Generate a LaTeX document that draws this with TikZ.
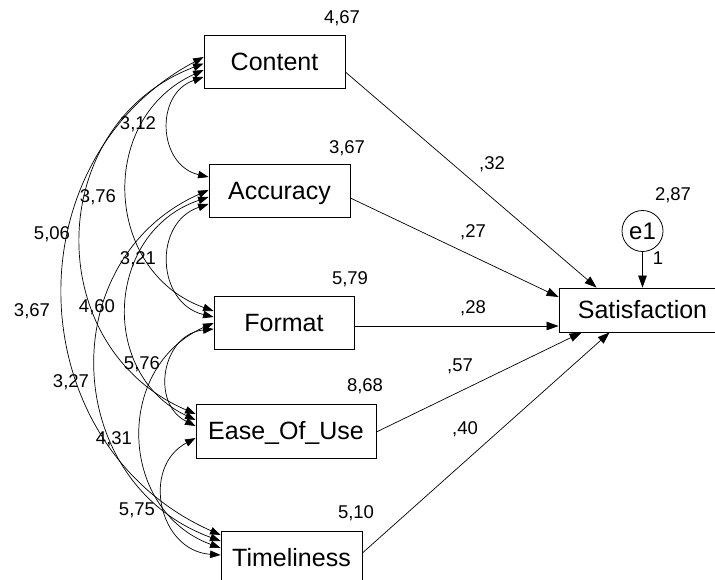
\documentclass[tikz,border=0pt]{standalone}
\usepackage{fontspec}
\setmainfont{Liberation Sans}
\usetikzlibrary{arrows.meta,calc}
\begin{document}
\begin{tikzpicture}[x=1pt,y=-1pt,
  var/.style={draw, line width=0.8pt, rectangle, inner sep=0pt, minimum height=53pt,
    font=\fontsize{25}{28}\selectfont, text height=17.9pt, text depth=0pt},
  num/.style={inner sep=0pt, font=\fontsize{18.5}{20}\selectfont, text height=13.2pt, text depth=0pt},
  regpath/.style={line width=0.7pt, -{Triangle[length=12pt,width=8.5pt]}},
  cov/.style={line width=0.7pt, {Triangle[length=10.5pt,width=7.5pt]}-{Triangle[length=10.5pt,width=7.5pt]},
    bend right=68, looseness=1.24},
  covnear/.style={cov, bend right=74, looseness=1.33},
  covfar/.style={cov, bend right=64, looseness=1.18},
]
\useasboundingbox (0,0) rectangle (715,579);
\clip (0,0) rectangle (715,579);

% variables
\node[var, minimum width=141pt] (C) at (274.5,61.5) {Content};
\node[var, minimum width=141pt] (A) at (279.5,190.5) {Accuracy};
\node[var, minimum width=140pt] (F) at (284,322.5) {Format};
\node[var, minimum width=180pt, minimum height=54pt] (E) at (286,431) {Ease\_Of\_Use};
\node[var, minimum width=141pt] (T) at (291.5,557.5) {Timeliness};
\node[var, minimum width=167pt, minimum height=44pt] (S) at (642.5,310) {Satisfaction};
\node[draw, circle, line width=0.8pt, minimum size=41pt, inner sep=0pt,
  font=\fontsize{24}{26}\selectfont] (e1) at (642.5,231) {e1};

% regression paths
\draw[regpath] ($(C.east)+(0,10.5)$) -- ($(S.north west)+(38,0)$);
\draw[regpath] ($(A.east)+(0,7.5)$) -- ($(S.west)+(0,-13)$);
\draw[regpath] ($(F.east)+(0,3.5)$) -- ($(S.west)+(0,16)$);
\draw[regpath] ($(E.east)+(0,1)$) -- ($(S.south west)+(23,0)$);
\draw[regpath] ($(T.east)+(0,-4.5)$) -- ($(S.south west)+(51,0)$);
\draw[regpath] (e1) -- (S);

% covariance end points
\coordinate (cT) at ($(C.west)+(0,-4.5)$);
\coordinate (cE) at ($(C.west)+(0,2)$);
\coordinate (cF) at ($(C.west)+(0,8.5)$);
\coordinate (cA) at ($(C.west)+(0,15.5)$);
\coordinate (aC) at ($(A.west)+(0,-13.5)$);
\coordinate (aT) at ($(A.west)+(0,-0.5)$);
\coordinate (aE) at ($(A.west)+(0,6.5)$);
\coordinate (aF) at ($(A.west)+(0,13.5)$);
\coordinate (fC) at ($(F.west)+(0,-11.5)$);
\coordinate (fA) at ($(F.west)+(0,-5.5)$);
\coordinate (fT) at ($(F.west)+(0,0.5)$);
\coordinate (fE) at ($(F.west)+(0,6.5)$);
\coordinate (eC) at ($(E.west)+(0,-17)$);
\coordinate (eA) at ($(E.west)+(0,-11)$);
\coordinate (eF) at ($(E.west)+(0,-5)$);
\coordinate (eT) at ($(E.west)+(0,7)$);
\coordinate (tC) at ($(T.west)+(0,-22.5)$);
\coordinate (tA) at ($(T.west)+(0,-16.5)$);
\coordinate (tF) at ($(T.west)+(0,-9.5)$);
\coordinate (tE) at ($(T.west)+(0,-2.5)$);

% covariances
\draw[covnear] (cA) to (aC);
\draw[cov] (cF) to (fC);
\draw[cov] (cE) to (eC);
\draw[covfar] (cT) to (tC);
\draw[covnear] (aF) to (fA);
\draw[cov] (aE) to (eA);
\draw[cov] (aT) to (tA);
\draw[covnear] (fE) to (eF);
\draw[cov] (fT) to (tF);
\draw[covnear] (eT) to (tE);

% variances
\node[num] (vC) at (342,17) {4,67};
\node[num] (vA) at (347,147) {3,67};
\node[num] (vF) at (350,278) {5,79};
\node[num] (vE) at (365,385) {8,68};
\node[num] (vT) at (356,512) {5,10};
\node[num] (ve) at (673,194) {2,87};
\node[num] (one) at (658,258) {1};

% path coefficients
\node[num] (pC) at (492,163) {,32};
\node[num] (pA) at (473,231) {,27};
\node[num] (pF) at (473,307) {,28};
\node[num] (pE) at (460,365) {,57};
\node[num] (pT) at (465,428) {,40};

% covariance labels
\node[num] (kCA) at (138,123) {3,12};
\node[num] (kCF) at (98,196) {3,76};
\node[num] (kCE) at (52,233) {5,06};
\node[num] (kAF) at (138,258) {3,21};
\node[num] (kCT) at (32,310) {3,67};
\node[num] (kAE) at (97,306) {4,60};
\node[num] (kFE) at (142,363) {5,76};
\node[num] (kAT) at (71,381) {3,27};
\node[num] (kFT) at (114,438) {4,31};
\node[num] (kET) at (137,509) {5,75};
\end{tikzpicture}
\end{document}
